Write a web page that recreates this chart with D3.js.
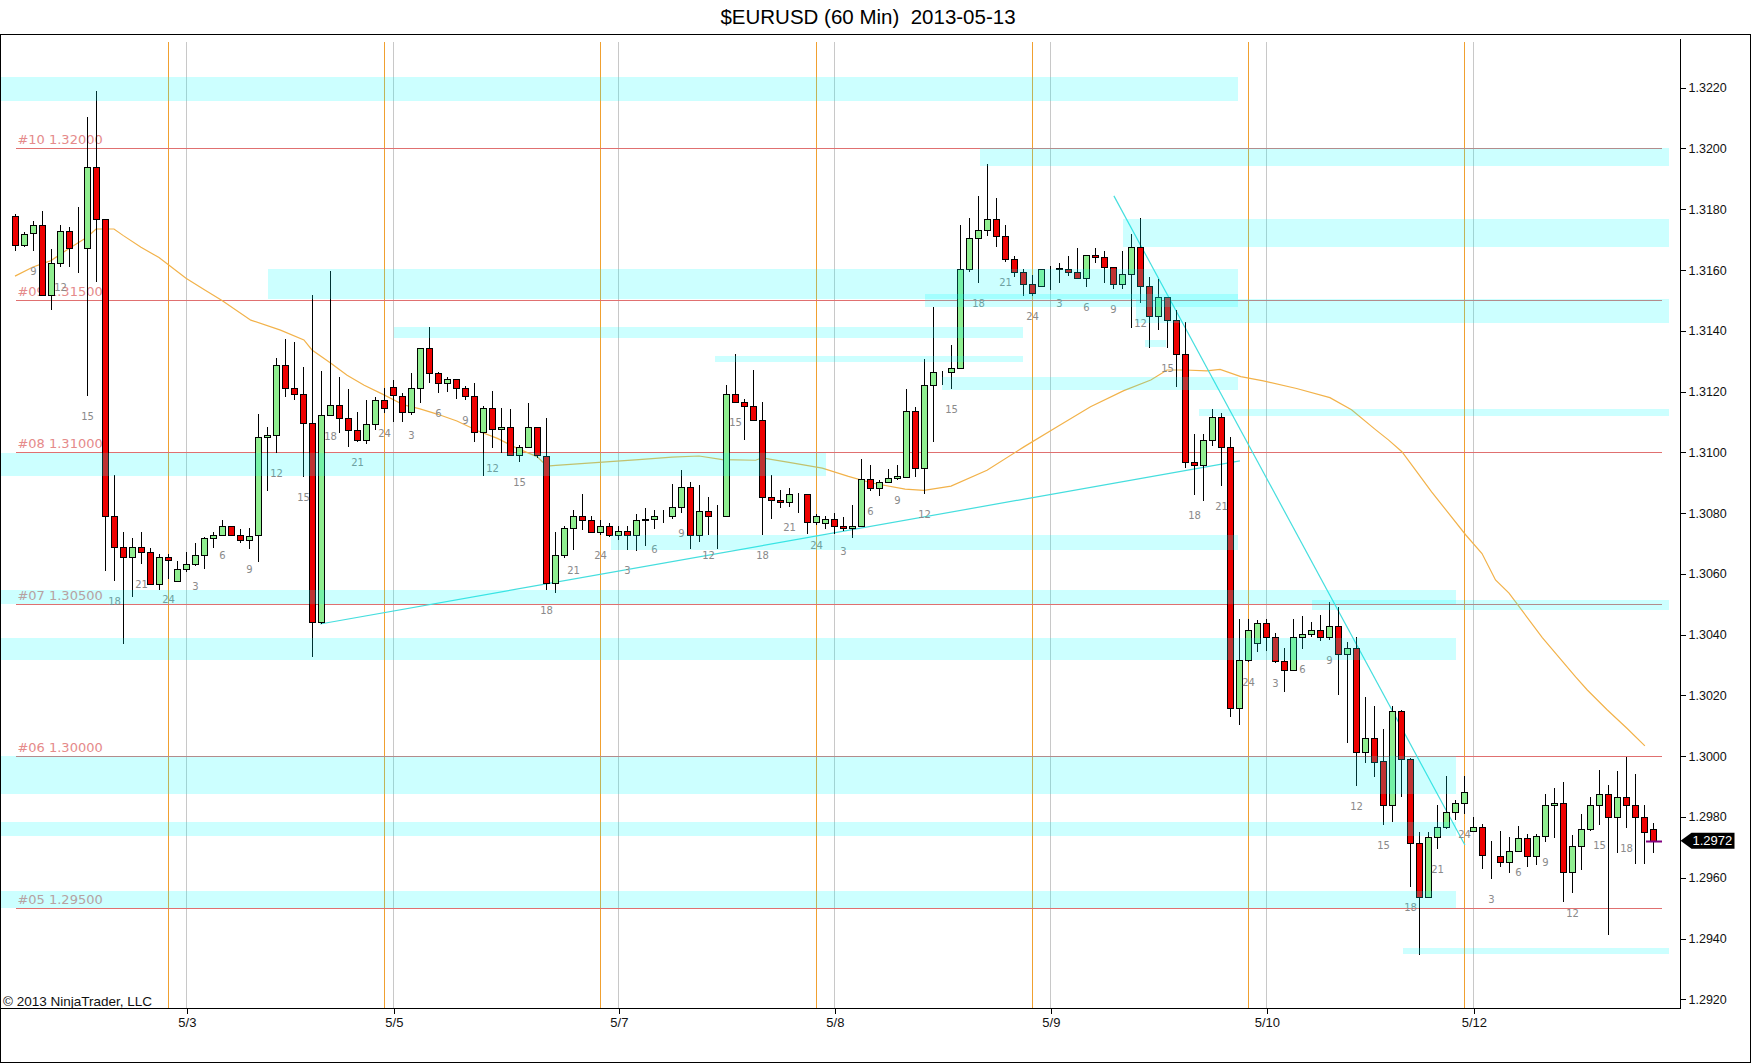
<!DOCTYPE html>
<html><head><meta charset="utf-8">
<script src="https://cdn.jsdelivr.net/npm/d3@7/dist/d3.min.js"></script>
<style>
html,body{margin:0;padding:0;background:#fff;}
svg{display:block;}
</style></head>
<body>
<svg id="chart" width="1752" height="1064"></svg>
<script>
// ---------------- DATA ----------------
const title = "$EURUSD (60 Min)  2013-05-13";
const copyright = "\u00A9 2013 NinjaTrader, LLC";

const opens = [1.31777,1.31681,1.31721,1.31747,1.31517,1.31623,1.31727,1.31671,1.31671,1.31938,
1.31769,1.30789,1.30689,1.30655,1.30689,1.30673,1.30568,1.30655,1.30576,1.30615,
1.30633,1.30661,1.30718,1.30728,1.30756,1.30727,1.3071,1.30727,1.3105,1.31056,
1.31286,1.31211,1.31191,1.31095,1.30441,1.31122,1.31155,1.31112,1.31072,1.31039,
1.31092,1.31171,1.31216,1.31187,1.31134,1.31211,1.31342,1.3126,1.31227,1.3124,
1.31211,1.31186,1.31066,1.31145,1.31076,1.31082,1.30991,1.31019,1.31082,1.30989,
1.30571,1.30662,1.30751,1.30791,1.30777,1.30738,1.30757,1.30728,1.30741,1.30728,
1.30777,1.3078,1.3079,1.3079,1.30819,1.30886,1.30727,1.30807,1.30789,1.30789,
1.31193,1.31166,1.31153,1.31106,1.30853,1.30843,1.30836,1.30863,1.30863,1.30771,
1.30767,1.3078,1.30757,1.30751,1.30757,1.30912,1.30883,1.30901,1.30915,1.30919,
1.31135,1.3095,1.3122,1.31265,1.31265,1.31276,1.31605,1.31707,1.31732,1.31767,
1.31712,1.31635,1.31592,1.31553,1.31547,1.31604,1.31605,1.31605,1.31592,1.31575,
1.31651,1.31644,1.31611,1.31553,1.31586,1.31677,1.31547,1.31448,1.31511,1.31437,
1.31323,1.30967,1.30957,1.31039,1.31115,1.31016,1.3016,1.30316,1.30371,1.3044,
1.30393,1.30314,1.30285,1.30393,1.30401,1.30414,1.30391,1.3043,1.30335,1.30355,
1.30015,1.30059,1.29985,1.29838,1.3015,1.2999,1.29714,1.29538,1.29733,1.29766,
1.29818,1.29845,1.29754,1.29766,1.29673,1.29672,1.29651,1.29689,1.2973,1.29672,
1.29739,1.29838,1.29847,1.29618,1.29703,1.2976,1.29838,1.29875,1.29799,1.29867,
1.29838,1.29799,1.2976];
const highs = [1.31785,1.31726,1.31761,1.31794,1.31669,1.31747,1.31741,1.31808,1.32103,1.32189,
1.31769,1.30925,1.30738,1.30719,1.30738,1.30684,1.30665,1.30665,1.30643,1.30671,
1.30701,1.30722,1.30738,1.30777,1.30756,1.30747,1.3075,1.31126,1.31084,1.31312,
1.31373,1.31364,1.3128,1.31518,1.31268,1.31596,1.31249,1.31207,1.31132,1.31171,
1.31183,1.31213,1.31238,1.31195,1.31262,1.31345,1.31411,1.31266,1.31249,1.3124,
1.31219,1.31229,1.31154,1.31202,1.31145,1.31143,1.31023,1.31161,1.31085,1.31114,
1.30737,1.30756,1.30809,1.30864,1.30789,1.30776,1.30767,1.30756,1.30759,1.30798,
1.30817,1.30809,1.30809,1.30897,1.30943,1.30901,1.30894,1.30853,1.30827,1.31223,
1.31325,1.31176,1.31272,1.31166,1.30925,1.30875,1.30883,1.30865,1.30863,1.30798,
1.30789,1.308,1.30787,1.30828,1.30978,1.30959,1.3091,1.30945,1.30957,1.31208,
1.3115,1.31306,1.31479,1.31267,1.31353,1.31748,1.3177,1.31844,1.31949,1.31836,
1.31748,1.31646,1.31603,1.31583,1.31602,1.31614,1.31624,1.31646,1.31671,1.31651,
1.31671,1.31662,1.31611,1.31662,1.31718,1.3177,1.31578,1.31572,1.31511,1.31468,
1.3143,1.31059,1.31059,1.31144,1.3113,1.31049,1.3045,1.30453,1.30448,1.30453,
1.30404,1.30355,1.3045,1.30461,1.30442,1.30464,1.30508,1.3049,1.30377,1.30393,
1.30194,1.30164,1.30089,1.30164,1.30153,1.29993,1.29752,1.29749,1.2984,1.29935,
1.29856,1.29935,1.29801,1.29776,1.29721,1.29754,1.29735,1.29771,1.29743,1.29743,
1.29875,1.29895,1.29914,1.29741,1.2981,1.29865,1.29955,1.29906,1.29952,1.29997,
1.29941,1.29838,1.2978];
const lows = [1.31662,1.31677,1.31662,1.31515,1.31469,1.3161,1.31611,1.31591,1.31187,1.31562,
1.3061,1.30576,1.30369,1.30525,1.30631,1.30564,1.30546,1.30582,1.30574,1.30607,
1.30625,1.30615,1.30686,1.30728,1.30727,1.30703,1.30683,1.3064,1.30874,1.30999,
1.31181,1.31172,1.3092,1.30326,1.30435,1.31118,1.31065,1.31019,1.31035,1.31026,
1.31073,1.31128,1.31101,1.31101,1.31123,1.31161,1.31229,1.31196,1.312,1.31174,
1.31172,1.31035,1.30922,1.31015,1.30999,1.30988,1.30969,1.31016,1.3098,1.30547,
1.30536,1.30652,1.30679,1.30745,1.30734,1.30729,1.30721,1.3071,1.30679,1.30676,
1.30693,1.30748,1.30767,1.3078,1.30802,1.30682,1.30704,1.30729,1.30682,1.30789,
1.31165,1.3104,1.31105,1.30729,1.3078,1.30816,1.3082,1.308,1.30731,1.30762,
1.30748,1.30731,1.3074,1.30718,1.30754,1.30872,1.30855,1.30899,1.3091,1.30914,
1.30919,1.30864,1.31035,1.31223,1.31207,1.31276,1.31593,1.31556,1.31712,1.31677,
1.31627,1.31576,1.31515,1.31515,1.31545,1.31534,1.31556,1.3158,1.31572,1.31545,
1.31622,1.31556,1.31539,1.31537,1.3141,1.3149,1.31345,1.31401,1.31345,1.31216,
1.30947,1.30861,1.3084,1.3102,1.3089,1.3013,1.30104,1.30311,1.30344,1.30347,
1.30308,1.30212,1.30281,1.30354,1.30391,1.3038,1.30384,1.30201,1.30044,1.29903,
1.29979,1.2993,1.29774,1.29785,1.29867,1.29569,1.29346,1.29532,1.29694,1.2976,
1.2979,1.2981,1.29752,1.29628,1.29595,1.29635,1.29615,1.29685,1.29635,1.29642,
1.29719,1.2973,1.29519,1.29549,1.29626,1.29755,1.29774,1.2941,1.29683,1.29765,
1.29644,1.29644,1.29683];
const closes = [1.31681,1.3172,1.31747,1.31517,1.31623,1.31727,1.31671,1.31672,1.31938,1.31769,
1.30789,1.30689,1.30655,1.30689,1.30673,1.30568,1.30655,1.30645,1.30615,1.30633,
1.30661,1.30718,1.30728,1.30756,1.30728,1.30712,1.30726,1.31049,1.31056,1.31286,
1.31211,1.31191,1.31095,1.30441,1.31122,1.31155,1.31112,1.31072,1.31039,1.31092,
1.31171,1.31145,1.31189,1.31134,1.31211,1.31342,1.3126,1.31227,1.3124,1.31211,
1.31186,1.31066,1.31145,1.31076,1.31082,1.30991,1.31019,1.31082,1.30991,1.30571,
1.30661,1.30751,1.30791,1.30777,1.30738,1.30757,1.30727,1.30741,1.30728,1.30777,
1.30779,1.30791,1.30791,1.3082,1.30886,1.30727,1.30807,1.30789,1.3079,1.31193,
1.31166,1.31153,1.31106,1.30853,1.30843,1.30836,1.30863,1.30862,1.30771,1.30789,
1.3078,1.30757,1.30751,1.30757,1.30912,1.30883,1.30901,1.30915,1.30921,1.31135,
1.3095,1.3122,1.31265,1.31266,1.31276,1.31605,1.31707,1.31732,1.31767,1.31712,
1.31635,1.31592,1.31553,1.31526,1.31602,1.31605,1.31606,1.31592,1.31575,1.31651,
1.31644,1.31611,1.31553,1.31586,1.31677,1.31547,1.31448,1.31511,1.31437,1.31323,
1.30967,1.30957,1.31039,1.31115,1.31016,1.3016,1.30316,1.30414,1.3044,1.30393,
1.30314,1.30285,1.30393,1.30401,1.30415,1.30391,1.3043,1.30335,1.30355,1.30015,
1.30059,1.29982,1.29838,1.3015,1.2999,1.29714,1.29538,1.29733,1.29766,1.29818,
1.29845,1.29881,1.29766,1.29675,1.29672,1.29651,1.29689,1.2973,1.29672,1.29739,
1.29838,1.29847,1.29618,1.29703,1.2976,1.29838,1.29875,1.29799,1.29867,1.29838,
1.29799,1.29752,1.29722];

// hour labels under every third bar, starting at bar 2
const hourLabelFirstBar = 2;
const hourLabels = ["9","12","15","18","21","24","3","6","9","12","15","18","21","24","3","6",
"9","12","15","18","21","24","3","6","9","12","15","18","21","24","3","6",
"9","12","15","18","21","24","3","6","9","12","15","18","21","24","3","6",
"9","12","15","18","21","24","3","6","9","12","15","18"];

// EMA (orange) sampled along bars
const emaBars = [0,2,4,6,8,9,11,12,14,16,19,21,23,26.2,29.5,32.1,33,35.1,36.9,38.8,41,43.2,45,46.9,49.1,51.4,53.6,55.8,58,59.1,60.1,64.9,69.3,73,76,78.6,82.3,83,86,89.7,92.6,95.2,98.9,101,104,108,112.1,115.8,119.5,123.2,126.2,128,130,132.4,133.9,136.2,138.7,142.4,146.1,148.5,151.2,152.6,154.1,155.6,157.4,159.3,161.2,163,164.5,166,169.7,173.4,174.7,176.9,179.1,181.1];
const emaValues = [1.3158,1.3161,1.31631,1.31671,1.31708,1.31735,1.31735,1.31714,1.31675,1.31641,1.31573,1.31536,1.315,1.31435,1.31402,1.3137,1.31337,1.31293,1.31254,1.31221,1.31189,1.31156,1.31143,1.31126,1.31103,1.31071,1.31046,1.31013,1.30986,1.30955,1.30957,1.30967,1.30976,1.30984,1.30988,1.30976,1.30974,1.30982,1.30967,1.30948,1.30921,1.30899,1.30879,1.30875,1.30889,1.30941,1.31018,1.31084,1.3115,1.31203,1.31238,1.31271,1.31271,1.31268,1.31273,1.31249,1.31235,1.3121,1.3118,1.3114,1.31074,1.31041,1.31002,1.30942,1.3087,1.30799,1.30728,1.30667,1.3058,1.30537,1.3039,1.30261,1.30218,1.30153,1.30092,1.30034];

// horizontal levels
const levelPrices = [1.32, 1.315, 1.31, 1.305, 1.30, 1.295];
const levelLabels = ["#10 1.32000","#09 1.31500","#08 1.31000","#07 1.30500","#06 1.30000","#05 1.29500"];
const levelFromBar = 0.1, levelToBar = 183.0;

// cyan zones: top price, bottom price, start bar, end bar
const zoneTop    = [1.32235,1.32000,1.31768,1.31602,1.31520,1.31503,1.31413,1.31318,1.31369,1.31247,1.31142,1.30998,1.30727,1.30546,1.30513,1.30389,1.30000,1.29782,1.29555,1.29368];
const zoneBottom = [1.32155,1.31943,1.31676,1.31503,1.31478,1.31426,1.31375,1.31298,1.31347,1.31206,1.31121,1.30922,1.30679,1.30502,1.30480,1.30316,1.29877,1.29738,1.29500,1.29349];
const zoneStart  = [-1.6,107.2,123.1,28.1,101.1,124.5,42.1,77.8,125.5,103.0,131.6,-1.6,66.2,-1.6,144.1,-1.6,-1.6,-1.6,-1.6,154.2];
const zoneEnd    = [135.9,183.8,183.8,135.9,135.9,183.8,112.0,112.0,127.9,135.9,183.8,90.1,135.9,160.1,183.8,160.1,160.1,160.1,160.1,183.8];

// trend lines (cyan)
const trendFromBar = [33.9, 122.1];
const trendFromPrice = [1.30435, 1.31844];
const trendToBar = [136.1, 161.1];
const trendToPrice = [1.30972, 1.29708];

// vertical separators
const sessionLineBars = [17.1, 41.1, 65.1, 89.1, 113.1, 137.1, 161.1];
const dateLineBars = [19.1, 42.1, 67.1, 91.1, 115.1, 139.1, 162.1];
const dateLabels = ["5/3","5/5","5/7","5/8","5/9","5/10","5/12"];

// y ticks
const yTicks = [1.2920,1.2940,1.2960,1.2980,1.3000,1.3020,1.3040,1.3060,1.3080,1.3100,1.3120,1.3140,1.3160,1.3180,1.3200,1.3220];

// ---------------- DRAW ----------------
const svg = d3.select("#chart");
const W = 1752, H = 1064;
const plotL = 1, plotR = 1680.5, plotT = 39, plotB = 1008.5;

const x = d3.scaleLinear().domain([0, 182]).range([15, 1653]);
const y = d3.scaleLinear().domain([1.2920, 1.3220]).range([999.3, 87.7]);

svg.append("rect").attr("width", W).attr("height", H).attr("fill", "#fff");

// title
svg.append("text").attr("x", 868).attr("y", 23.5)
  .attr("text-anchor", "middle").style("white-space", "pre")
  .attr("font-family", "Liberation Sans, Arial, sans-serif").attr("font-size", 20.5)
  .attr("fill", "#000").text(title);

// frame
svg.append("rect").attr("x", 0.5).attr("y", 34.5).attr("width", 1750).attr("height", 1028)
  .attr("fill", "none").attr("stroke", "#000").attr("stroke-width", 1).attr("shape-rendering", "crispEdges");

const defs = svg.append("defs");
defs.append("clipPath").attr("id", "plotclip").append("rect")
  .attr("x", plotL).attr("y", plotT).attr("width", plotR - plotL).attr("height", plotB - plotT);

const plot = svg.append("g").attr("clip-path", "url(#plotclip)");

// vertical lines
plot.selectAll("line.date").data(dateLineBars).join("line")
  .attr("x1", d => x(d)).attr("x2", d => x(d)).attr("y1", 41.5).attr("y2", plotB)
  .attr("stroke", "#c8c8c8").attr("stroke-width", 1).attr("shape-rendering", "crispEdges");
plot.selectAll("line.sess").data(sessionLineBars).join("line")
  .attr("x1", d => x(d)).attr("x2", d => x(d)).attr("y1", 41.5).attr("y2", plotB)
  .attr("stroke", "#f0a030").attr("stroke-width", 1).attr("shape-rendering", "crispEdges");

// level lines + labels
const lv = plot.append("g");
lv.selectAll("line").data(levelPrices).join("line")
  .attr("x1", x(levelFromBar)).attr("x2", x(levelToBar))
  .attr("y1", d => Math.round(y(d)) + 0.5).attr("y2", d => Math.round(y(d)) + 0.5)
  .attr("stroke", "#e07070").attr("stroke-width", 1).attr("shape-rendering", "crispEdges");
lv.selectAll("text").data(levelPrices).join("text")
  .attr("x", x(levelFromBar) + 1.5).attr("y", d => y(d) - 4)
  .attr("font-family", "DejaVu Sans, Verdana, sans-serif").attr("font-size", 13)
  .attr("fill", "#e58a8a").text((d, i) => levelLabels[i]);

// EMA
const emaPts = emaBars.map((b, i) => [x(b), y(emaValues[i])]);
plot.append("path").attr("d", d3.line()(emaPts))
  .attr("fill", "none").attr("stroke", "#f2b24a").attr("stroke-width", 1.2);

// trend lines
plot.selectAll("line.trend").data(trendFromBar).join("line")
  .attr("x1", (d, i) => x(trendFromBar[i])).attr("y1", (d, i) => y(trendFromPrice[i]))
  .attr("x2", (d, i) => x(trendToBar[i])).attr("y2", (d, i) => y(trendToPrice[i]))
  .attr("stroke", "#45dede").attr("stroke-width", 1.2);

// candles
const bars = d3.range(opens.length).map(i => ({i, o: opens[i], h: highs[i], l: lows[i], c: closes[i]}));
const cg = plot.append("g").attr("shape-rendering", "crispEdges");
cg.selectAll("line.wick").data(bars).join("line")
  .attr("x1", d => x(d.i) + 0.5).attr("x2", d => x(d.i) + 0.5)
  .attr("y1", d => y(d.h)).attr("y2", d => y(d.l))
  .attr("stroke", "#000").attr("stroke-width", 1);
cg.selectAll("rect.body").data(bars).join("rect")
  .attr("x", d => x(d.i) - 2.5)
  .attr("width", 6)
  .attr("y", d => Math.round(y(Math.max(d.o, d.c))) + 0.5)
  .attr("height", d => Math.max(0, Math.round(y(Math.min(d.o, d.c))) - Math.round(y(Math.max(d.o, d.c)))))
  .attr("fill", d => d.c >= d.o ? "#90ee90" : "#ee0000")
  .attr("stroke", "#000").attr("stroke-width", 1);

// hour labels
plot.selectAll("text.hour").data(hourLabels).join("text")
  .attr("x", (d, k) => x(hourLabelFirstBar + 3 * k) + 0.5)
  .attr("y", (d, k) => y(lows[hourLabelFirstBar + 3 * k]) + 24)
  .attr("text-anchor", "middle")
  .attr("font-family", "DejaVu Sans, Verdana, sans-serif").attr("font-size", 10)
  .attr("fill", "#8a8a8a").text(d => d);

// zones (translucent cyan on top)
plot.selectAll("rect.zone").data(zoneTop).join("rect")
  .attr("x", (d, i) => x(zoneStart[i]))
  .attr("width", (d, i) => x(zoneEnd[i]) - x(zoneStart[i]))
  .attr("y", (d, i) => y(zoneTop[i]))
  .attr("height", (d, i) => y(zoneBottom[i]) - y(zoneTop[i]))
  .attr("fill", "#00ffff").attr("fill-opacity", 0.2).attr("shape-rendering", "crispEdges");

// last price marker
const lastBar = opens.length - 1, lastClose = closes[lastBar];
const ly = Math.round(y(lastClose)) + 0.5;
plot.append("line").attr("x1", x(lastBar) - 7).attr("x2", x(lastBar) + 9)
  .attr("y1", ly).attr("y2", ly).attr("stroke", "#800080").attr("stroke-width", 2);

// axes
const yAxis = svg.append("g").attr("transform", `translate(${plotR},0)`)
  .call(d3.axisRight(y).tickValues(yTicks).tickFormat(d3.format(".4f")).tickSize(5).tickPadding(3));
yAxis.select(".domain").remove();
yAxis.selectAll("text").attr("font-family", "Liberation Sans, Arial, sans-serif").attr("font-size", 12.5).attr("fill", "#111");
yAxis.selectAll("line").attr("stroke", "#000").attr("shape-rendering", "crispEdges");
svg.append("line").attr("x1", plotR).attr("x2", plotR).attr("y1", plotT).attr("y2", plotB)
  .attr("stroke", "#000").attr("shape-rendering", "crispEdges");

const xAxis = svg.append("g").attr("transform", `translate(0,${plotB})`)
  .call(d3.axisBottom(x).tickValues(dateLineBars).tickFormat((d, i) => dateLabels[i]).tickSize(5).tickPadding(4));
xAxis.select(".domain").remove();
xAxis.selectAll("text").attr("font-family", "Liberation Sans, Arial, sans-serif").attr("font-size", 13).attr("fill", "#111");
xAxis.selectAll("line").attr("stroke", "#000").attr("shape-rendering", "crispEdges");
svg.append("line").attr("x1", plotL).attr("x2", plotR).attr("y1", plotB).attr("y2", plotB)
  .attr("stroke", "#000").attr("shape-rendering", "crispEdges");

// price tag
const tagY = y(lastClose);
const tag = svg.append("g");
tag.append("path")
  .attr("d", `M${plotR},${tagY} L${plotR + 11},${tagY - 8} L${plotR + 54},${tagY - 8} L${plotR + 54},${tagY + 8} L${plotR + 11},${tagY + 8} Z`)
  .attr("fill", "#000");
tag.append("text").attr("x", plotR + 12).attr("y", tagY + 4.5)
  .attr("font-family", "Liberation Sans, Arial, sans-serif").attr("font-size", 13)
  .attr("fill", "#fff").text(d3.format(".4f")(lastClose));

// copyright
svg.append("text").attr("x", 3).attr("y", 1005.5)
  .attr("font-family", "Liberation Sans, Arial, sans-serif").attr("font-size", 13.5)
  .attr("fill", "#111").text(copyright);
</script>
</body></html>
